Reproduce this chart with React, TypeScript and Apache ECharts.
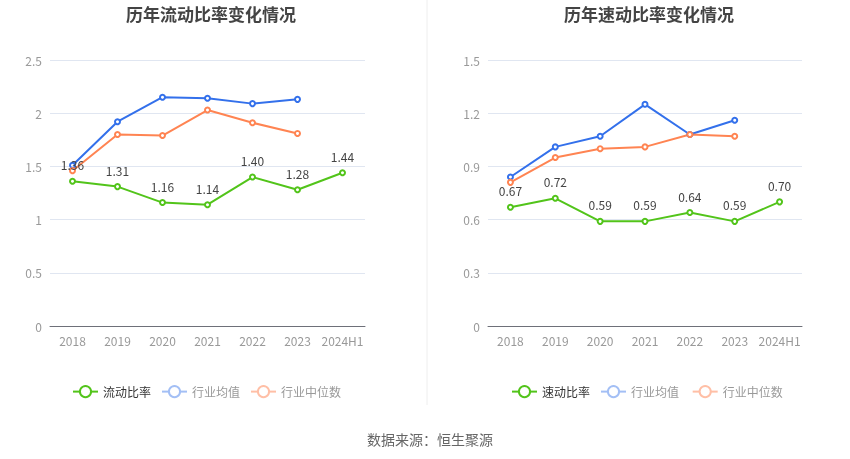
import React, { useEffect, useRef } from "react";
import * as echarts from "echarts";

const categories = ["2018", "2019", "2020", "2021", "2022", "2023", "2024H1"];
const currentRatio = [1.36, 1.31, 1.16, 1.14, 1.40, 1.28, 1.44];
const currentIndustryAvg = [1.51, 1.92, 2.15, 2.14, 2.09, 2.13];
const currentIndustryMedian = [1.46, 1.80, 1.79, 2.03, 1.91, 1.81];
const quickRatio = [0.67, 0.72, 0.59, 0.59, 0.64, 0.59, 0.70];
const quickIndustryAvg = [0.84, 1.01, 1.07, 1.25, 1.08, 1.16];
const quickIndustryMedian = [0.81, 0.95, 1.00, 1.01, 1.08, 1.07];

const GREEN = "#52c41a";
const BLUE = "#3370eb";
const ORANGE = "#ff8452";

export default function App() {
  const ref = useRef<HTMLDivElement>(null);
  useEffect(() => {
    const chart = echarts.init(ref.current!, null, { renderer: "svg" });
    const font = "'Noto Sans CJK SC', 'Noto Sans', sans-serif";
    const mkLine = (name: string, data: number[], color: string, idx: number, label: boolean) => ({
      name,
      type: "line",
      xAxisIndex: idx,
      yAxisIndex: idx,
      data,
      symbol: "emptyCircle",
      symbolSize: 5,
      lineStyle: { width: 2, color },
      itemStyle: { color },
      label: label
        ? { show: true, position: "top", color: "#444", fontSize: 12, formatter: (p: any) => p.value.toFixed(2), distance: 7 }
        : { show: false },
      z: label ? 3 : 2,
    });
    const mkLegend = (left: number, main: string, suffix: string) => ({
      left,
      top: 380,
      itemGap: 10,
      textStyle: { fontSize: 12, fontFamily: font, color: "#333" },
      data: [
        { name: main, textStyle: { color: "#333" } },
        { name: "行业均值" + suffix, itemStyle: { color: "#a3bff5", borderColor: "#a3bff5" }, lineStyle: { color: "#a3bff5" }, textStyle: { color: "#999" } },
        { name: "行业中位数" + suffix, itemStyle: { color: "#ffbfa6", borderColor: "#ffbfa6" }, lineStyle: { color: "#ffbfa6" }, textStyle: { color: "#999" } },
      ],
    });
    const xAxis = (gridIndex: number) => ({
      type: "category",
      gridIndex,
      data: categories,
      boundaryGap: true,
      axisLine: { lineStyle: { color: "#6e7079" } },
      axisTick: { alignWithLabel: true, lineStyle: { color: "#6e7079" } },
      axisLabel: { color: "#999", fontSize: 12, fontFamily: font, margin: 8, interval: 0 },
    });
    const yAxis = (gridIndex: number, max: number, interval: number) => ({
      type: "value",
      gridIndex,
      min: 0,
      max,
      interval,
      axisLine: { show: false },
      axisTick: { show: false },
      axisLabel: { color: "#999", fontSize: 12, fontFamily: font, margin: 8 },
      splitLine: { lineStyle: { color: "#e0e6f1" } },
    });
    chart.setOption({
      animation: false,
      textStyle: { fontFamily: font },
      title: [
        { text: "历年流动比率变化情况", left: 206, top: 0, textAlign: "center", textStyle: { fontSize: 17, fontWeight: "bold", color: "#444", fontFamily: font } },
        { text: "历年速动比率变化情况", left: 644, top: 0, textAlign: "center", textStyle: { fontSize: 17, fontWeight: "bold", color: "#444", fontFamily: font } },
        { text: "数据来源：恒生聚源", left: 425, top: 427, textAlign: "center", textStyle: { fontSize: 14, fontWeight: "normal", color: "#666", fontFamily: font } },
      ],
      legend: [mkLegend(67, "流动比率", ""), mkLegend(506, "速动比率", " ")],
      grid: [
        { left: 50, top: 60, width: 315, height: 266 },
        { left: 488, top: 60, width: 314, height: 266 },
      ],
      xAxis: [xAxis(0), xAxis(1)],
      yAxis: [yAxis(0, 2.5, 0.5), yAxis(1, 1.5, 0.3)],
      series: [
        mkLine("流动比率", currentRatio, GREEN, 0, true),
        mkLine("行业均值", currentIndustryAvg, BLUE, 0, false),
        mkLine("行业中位数", currentIndustryMedian, ORANGE, 0, false),
        mkLine("速动比率", quickRatio, GREEN, 1, true),
        mkLine("行业均值 ", quickIndustryAvg, BLUE, 1, false),
        mkLine("行业中位数 ", quickIndustryMedian, ORANGE, 1, false),
      ],
      graphic: [
        { type: "line", shape: { x1: 427, y1: 0, x2: 427, y2: 405 }, style: { stroke: "#eeeeee", lineWidth: 1 } },
      ],
    });
    return () => chart.dispose();
  }, []);
  return <div ref={ref} style={{ position: "fixed", left: 0, top: 0, width: 850, height: 459 }} />;
}
